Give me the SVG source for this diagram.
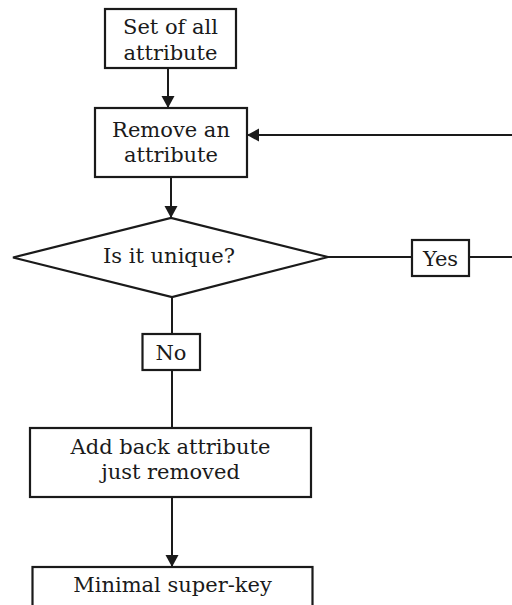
<svg xmlns="http://www.w3.org/2000/svg" width="512" height="605" viewBox="0 0 512 605">
  <style>
    .box { fill: #ffffff; stroke: #1a1a1a; stroke-width: 2.2; }
    .edge { fill: none; stroke: #1a1a1a; stroke-width: 2; }
    text { font-family: "DejaVu Serif", "Liberation Serif", serif; font-size: 21px; fill: #1a1a1a; text-anchor: middle; }
  </style>
  <defs>
    <marker id="arrow" markerUnits="userSpaceOnUse" markerWidth="14" markerHeight="14" refX="12" refY="6.5" orient="auto">
      <path d="M0,0 L12,6.5 L0,13 Z" fill="#1a1a1a"/>
    </marker>
  </defs>
  <rect width="512" height="605" fill="#ffffff"/>

  <g id="connectors">
    <line class="edge" x1="168" y1="68" x2="168" y2="108" marker-end="url(#arrow)"/>
    <line class="edge" x1="171" y1="177" x2="171" y2="218" marker-end="url(#arrow)"/>
    <line class="edge" x1="512" y1="135" x2="247" y2="135" marker-end="url(#arrow)"/>
    <line class="edge" x1="328" y1="257" x2="412" y2="257"/>
    <line class="edge" x1="469" y1="257" x2="512" y2="257"/>
    <line class="edge" x1="172" y1="297" x2="172" y2="334"/>
    <line class="edge" x1="172" y1="370" x2="172" y2="428"/>
    <line class="edge" x1="172" y1="497" x2="172" y2="567" marker-end="url(#arrow)"/>
  </g>

  <g id="start">
    <rect class="box" x="105" y="9" width="131" height="59"/>
    <text x="170.5" y="34">Set of all</text>
    <text x="170.5" y="60">attribute</text>
  </g>

  <g id="remove">
    <rect class="box" x="95" y="108" width="152" height="69"/>
    <text x="171" y="137">Remove an</text>
    <text x="171" y="162">attribute</text>
  </g>

  <g id="decision">
    <polygon class="box" points="13,257.5 171,218 328,257 172,297"/>
    <text x="169" y="263">Is it unique?</text>
  </g>

  <g id="yes-label">
    <rect class="box" x="412" y="240" width="57" height="36"/>
    <text x="440.5" y="266">Yes</text>
  </g>

  <g id="no-label">
    <rect class="box" x="142.5" y="334" width="57.5" height="36"/>
    <text x="171" y="360">No</text>
  </g>

  <g id="add-back">
    <rect class="box" x="30" y="428" width="281" height="69"/>
    <text x="170.5" y="454">Add back attribute</text>
    <text x="170.5" y="479">just removed</text>
  </g>

  <g id="result">
    <rect class="box" x="32.5" y="567" width="280" height="60"/>
    <text x="172.5" y="592">Minimal super-key</text>
  </g>
</svg>
